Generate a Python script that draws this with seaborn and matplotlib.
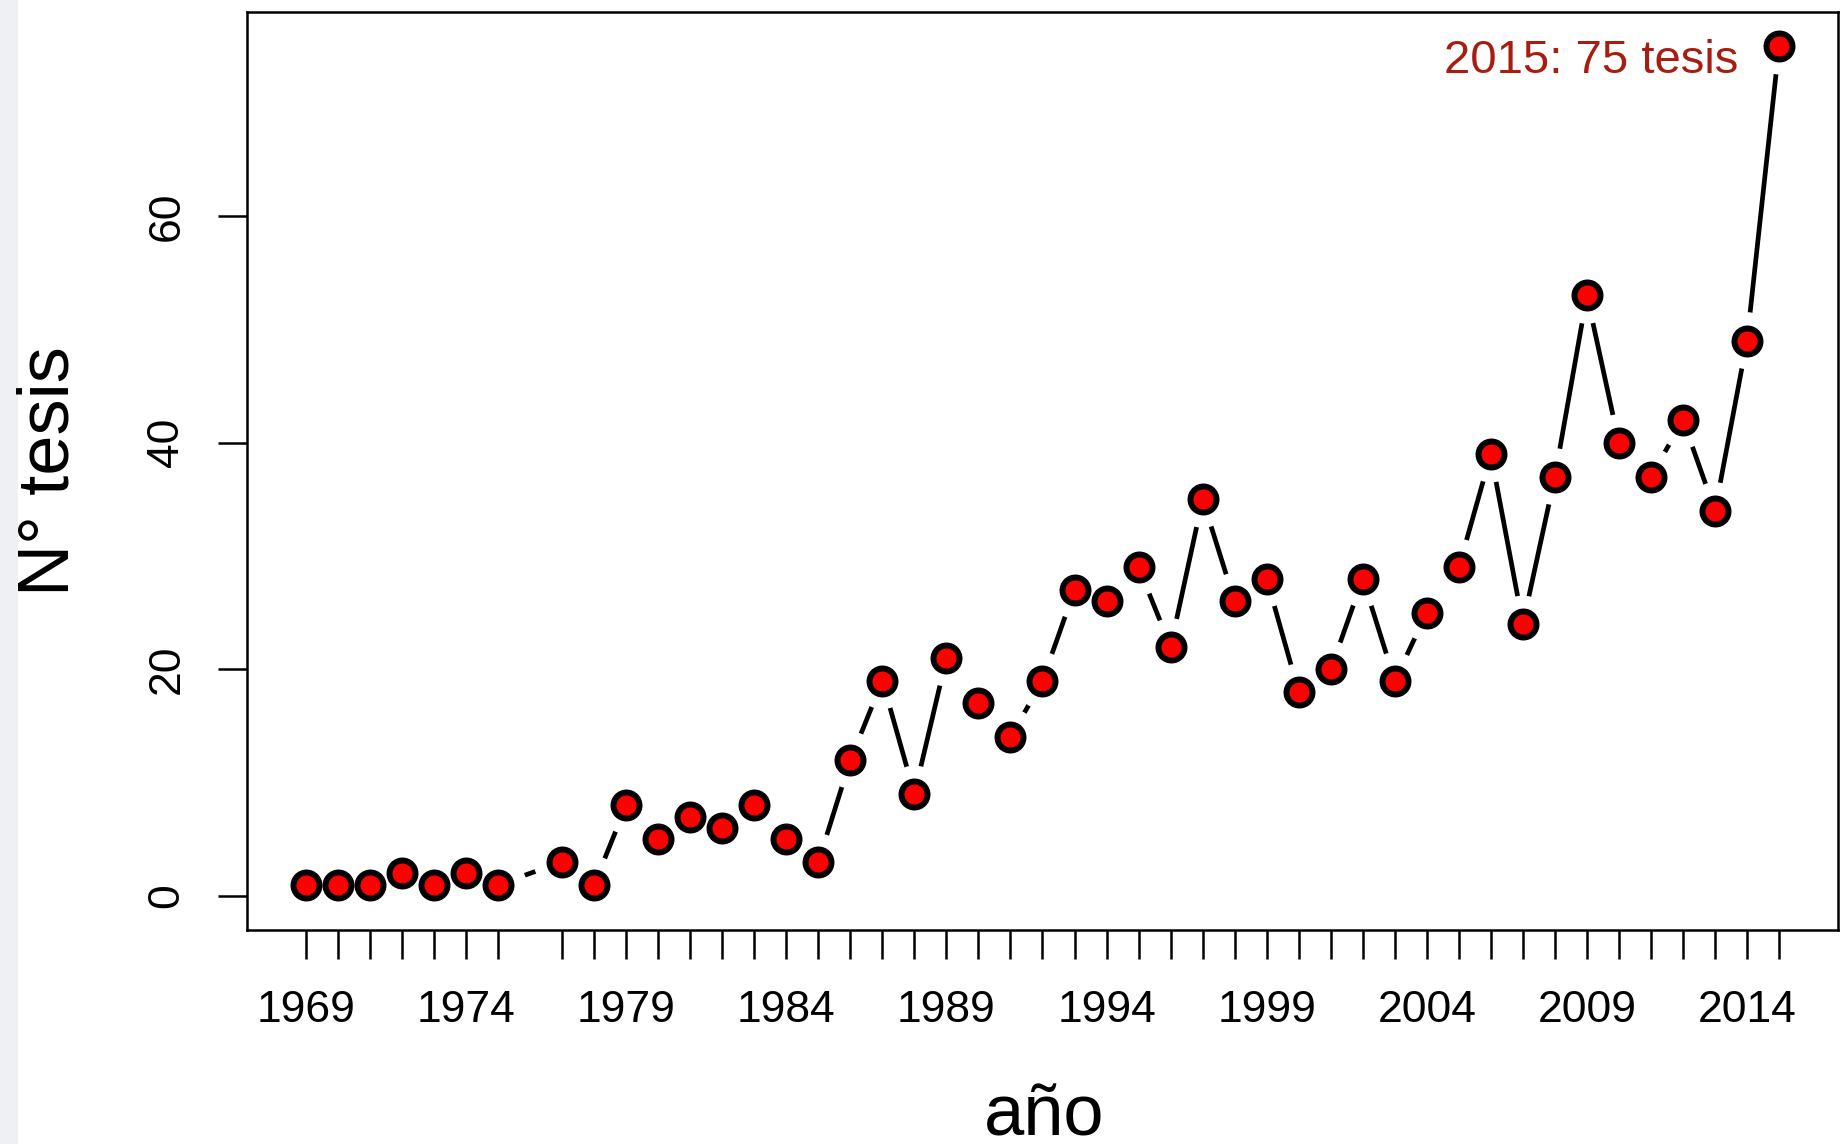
import matplotlib
matplotlib.use("Agg")
import matplotlib.pyplot as plt
import seaborn as sns
import pandas as pd
from matplotlib.patches import Rectangle

years = [1969, 1970, 1971, 1972, 1973, 1974, 1975, 1977, 1978, 1979,
         1980, 1981, 1982, 1983, 1984, 1985, 1986, 1987, 1988, 1989,
         1990, 1991, 1992, 1993, 1994, 1995, 1996, 1997, 1998, 1999,
         2000, 2001, 2002, 2003, 2004, 2005, 2006, 2007, 2008, 2009,
         2010, 2011, 2012, 2013, 2014, 2015]
tesis = [1, 1, 1, 2, 1, 2, 1, 3, 1, 8,
         5, 7, 6, 8, 5, 3, 12, 19, 9, 21,
         17, 14, 19, 27, 26, 29, 22, 35, 26, 28,
         18, 20, 28, 19, 25, 29, 39, 24, 37, 53,
         40, 37, 42, 34, 49, 75]
label_years = [1969, 1974, 1979, 1984, 1989, 1994, 1999, 2004, 2009, 2014]
y_ticks = [0, 20, 40, 60]
annot_text = "2015: 75 tesis"

df = pd.DataFrame({"año": years, "tesis": tesis})

sns.set_style("white")
plt.rcParams["font.family"] = ["Liberation Sans", "DejaVu Sans"]
plt.rcParams["text.color"] = "black"
plt.rcParams["axes.labelcolor"] = "black"

fig = plt.figure(figsize=(18.45, 11.44), dpi=100)
fig.patches.append(Rectangle((0, 0), 18 / 1845, 1, transform=fig.transFigure,
                             facecolor="#eef0f3", edgecolor="none", zorder=-10))
ax = fig.add_axes([247 / 1845, 1 - 930 / 1144, (1838 - 247) / 1845, (930 - 12) / 1144])

sns.lineplot(data=df, x="año", y="tesis", ax=ax, color="black", lw=3.4,
             solid_capstyle="round", zorder=2)
sns.scatterplot(data=df, x="año", y="tesis", ax=ax, s=1680, color="white",
                edgecolor="none", linewidth=0, zorder=3)
sns.scatterplot(data=df, x="año", y="tesis", ax=ax, s=350, color="#ff0000",
                edgecolor="black", linewidth=4.3, zorder=4)

ax.set_xlim(1967.16, 2016.84)
ax.set_ylim(-3, 78)

ax.set_xticks(years)
ax.set_xticklabels([str(y) if y in label_years else "" for y in years])
ax.set_yticks(y_ticks)
ax.set_yticklabels([str(v) for v in y_ticks], rotation=90, va="center")

ax.tick_params(axis="both", direction="out", length=21, width=1.8, color="black",
               labelsize=32, labelcolor="black")
ax.tick_params(axis="x", pad=22)
ax.tick_params(axis="y", pad=22)
ax.xaxis.set_ticks_position("bottom")
ax.yaxis.set_ticks_position("left")

for sp in ax.spines.values():
    sp.set_visible(True)
    sp.set_color("black")
    sp.set_linewidth(1.8)

ax.set_xlabel("año", fontsize=52, color="black")
ax.xaxis.label.set_va("baseline")
ax.xaxis.set_label_coords((1044 - 247) / 1591, (930 - 1136) / 918)
ax.set_ylabel("N° tesis", fontsize=52, color="black")
ax.yaxis.label.set_va("center")
ax.yaxis.set_label_coords((50 - 247) / 1591, 0.5)

ax.annotate(annot_text, xy=(years[-1], tesis[-1]), xytext=(-29, -19.4),
            textcoords="offset points", ha="right", va="baseline",
            fontsize=34, color="#a81d10")

fig.savefig("out.png", dpi=100)
